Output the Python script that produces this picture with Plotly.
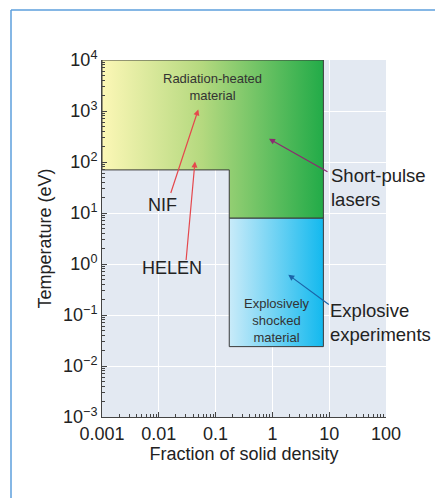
import plotly.graph_objects as go

# Region boundaries (data units)
upper_x = [0.001, 0.001, 7.9, 7.9, 0.174, 0.174, 0.001]
upper_y = [70, 10000, 10000, 7.9, 7.9, 70, 70]
lower_x = [0.174, 0.174, 7.9, 7.9, 0.174]
lower_y = [0.024, 7.9, 7.9, 0.024, 0.024]

x_tickvals = [0.001, 0.01, 0.1, 1, 10, 100]
x_ticktext = ["0.001", "0.01", "0.1", "1", "10", "100"]
y_tickvals = [1e-3, 1e-2, 1e-1, 1, 10, 100, 1000, 10000]
y_ticktext = ["10<sup>\u22123</sup>", "10<sup>\u22122</sup>", "10<sup>\u22121</sup>", "10<sup>0</sup>",
              "10<sup>1</sup>", "10<sup>2</sup>", "10<sup>3</sup>", "10<sup>4</sup>"]

FONT = "Liberation Sans, Arial, sans-serif"

x_minor = [m * 10.0 ** e for e in range(-3, 2) for m in range(2, 10)]
y_minor = [m * 10.0 ** e for e in range(-3, 4) for m in range(2, 10)]

fig = go.Figure()
fig.add_trace(go.Scatter(
    x=upper_x, y=upper_y, mode="lines", fill="toself",
    line=dict(color="#3a3a3a", width=1),
    fillgradient=dict(type="horizontal",
                      colorscale=[[0, "#fcf7b6"], [0.45, "#b5d97f"], [1, "#22ab48"]]),
    hoverinfo="skip", showlegend=False))
fig.add_trace(go.Scatter(
    x=lower_x, y=lower_y, mode="lines", fill="toself",
    line=dict(color="#3a3a3a", width=1),
    fillgradient=dict(type="horizontal",
                      colorscale=[[0, "#c9ebf9"], [1, "#13b9ee"]]),
    hoverinfo="skip", showlegend=False))

annots = [
    dict(x=-1.05, y=3.47, text="Radiation-heated<br>material", font=dict(size=13, color="#333")),
    dict(x=0.08, y=-1.1, text="Explosively<br>shocked<br>material", font=dict(size=13, color="#333")),
    dict(x=-1.935, y=1.16, text="NIF", font=dict(size=18, color="#222")),
    dict(x=-1.76, y=-0.07, text="HELEN", font=dict(size=18, color="#222")),
    dict(x=1.0, y=1.5, text="Short-pulse<br>lasers", font=dict(size=18.5, color="#222"), xanchor="left", align="left"),
    dict(x=0.98, y=-1.15, text="Explosive<br>experiments", font=dict(size=18.5, color="#222"), xanchor="left", align="left"),
]
arrows = [
    dict(x=-1.305, y=3.03, ax=-28, ay=85, color="#e5484d"),
    dict(x=-1.363, y=2.01, ax=-9, ay=100, color="#e5484d"),
    dict(x=-0.06, y=2.457, ax=60, ay=34, color="#8c2a70"),
    dict(x=0.28, y=-0.21, ax=42, ay=31, color="#1b64a8"),
]
annotations = []
for a in annots:
    d = dict(xref="x", yref="y", showarrow=False, font_family=FONT)
    d.update(a)
    annotations.append(d)
for a in arrows:
    annotations.append(dict(xref="x", yref="y", x=a["x"], y=a["y"], ax=a["ax"], ay=a["ay"],
                            axref="pixel", ayref="pixel", text="", showarrow=True,
                            arrowhead=2, arrowsize=1, arrowwidth=1.2, arrowcolor=a["color"]))

W, H = 435, 498
l, r, t, b = 102, 49, 60, 81
pw, ph = W - l - r, H - t - b
def px(xp):
    return (xp - l) / pw
def py(yp):
    return 1 - (yp - t) / ph

shapes = [
    dict(type="line", xref="paper", yref="paper", x0=px(11), x1=px(11), y0=py(10), y1=py(H + 5),
         line=dict(color="#5c9fdc", width=1.5)),
    dict(type="line", xref="paper", yref="paper", x0=px(11), x1=px(W + 5), y0=py(10), y1=py(10),
         line=dict(color="#5c9fdc", width=1.5)),
]

fig.update_layout(
    width=W, height=H,
    margin=dict(l=l, r=r, t=t, b=b),
    paper_bgcolor="white", plot_bgcolor="#e3e9f2",
    font=dict(family=FONT, size=18, color="#222"),
    annotations=annotations, shapes=shapes,
    xaxis=dict(type="log", range=[-3, 2], tickvals=x_tickvals, ticktext=x_ticktext,
               showgrid=True, gridcolor="white", gridwidth=1, zeroline=False,
               showline=True, linecolor="#444", linewidth=1,
               ticks="inside", ticklen=5, tickcolor="#444",
               minor=dict(tickvals=x_minor, ticks="inside", ticklen=3, tickcolor="#444", showgrid=False),
               title=dict(text="Fraction of solid density", font=dict(size=18), standoff=4),
               tickfont=dict(size=18)),
    yaxis=dict(type="log", range=[-3, 4], tickvals=y_tickvals, ticktext=y_ticktext,
               showgrid=True, gridcolor="white", gridwidth=1, zeroline=False,
               showline=True, linecolor="#444", linewidth=1,
               ticks="inside", ticklen=5, tickcolor="#444",
               minor=dict(tickvals=y_minor, ticks="inside", ticklen=3, tickcolor="#444", showgrid=False),
               title=dict(text="Temperature (eV)", font=dict(size=18), standoff=6),
               tickfont=dict(size=18)),
)

fig.write_html("out.html")
